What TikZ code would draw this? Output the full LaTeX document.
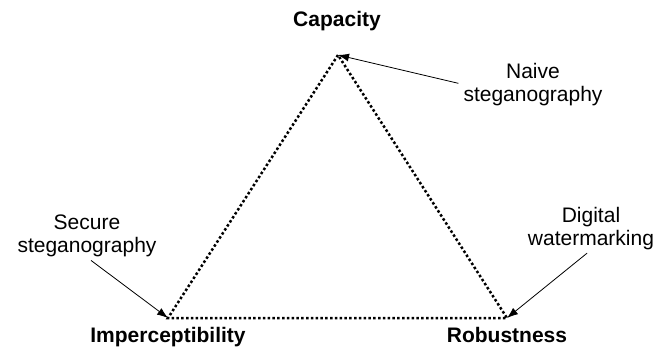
\documentclass[tikz,border=0pt]{standalone}
\usepackage{fontspec}
\setmainfont{Liberation Sans}
\usetikzlibrary{arrows.meta}
\tikzset{>={Latex[length=11pt,width=8pt]}}

\begin{document}
\begin{tikzpicture}[x=1pt,y=-1pt,
    corner/.style={font=\fontsize{21}{23}\selectfont\bfseries, anchor=base},
    remark/.style={font=\fontsize{21}{23}\selectfont, align=center, anchor=north, inner sep=0pt},
    edge/.style={line width=2.5pt, dash pattern=on 2.5pt off 2.3pt},
    pointer/.style={->, line width=0.8pt, shorten <=5pt}]
    \useasboundingbox (0,0) rectangle (654,353);
    \coordinate (C) at (338,55);
    \coordinate (I) at (168,318);
    \coordinate (R) at (507,318);
    \draw[edge] (C) -- (I) -- (R) -- cycle;
    \node[corner] (cap) at (337,27) {Capacity};
    \node[corner] (imp) at (168,342) {Imperceptibility};
    \node[corner] (rob) at (507,342) {Robustness};
    \node[remark] (naive) at (533,63) {Naive\\steganography};
    \node[remark] (secure) at (87,215) {Secure\\steganography};
    \node[remark] (digital) at (591,207) {Digital\\watermarking};
    \draw[pointer] (naive.west) -- (C);
    \draw[pointer] (secure.south) -- (I);
    \draw[pointer] (digital.south) -- (R);
\end{tikzpicture}
\end{document}
